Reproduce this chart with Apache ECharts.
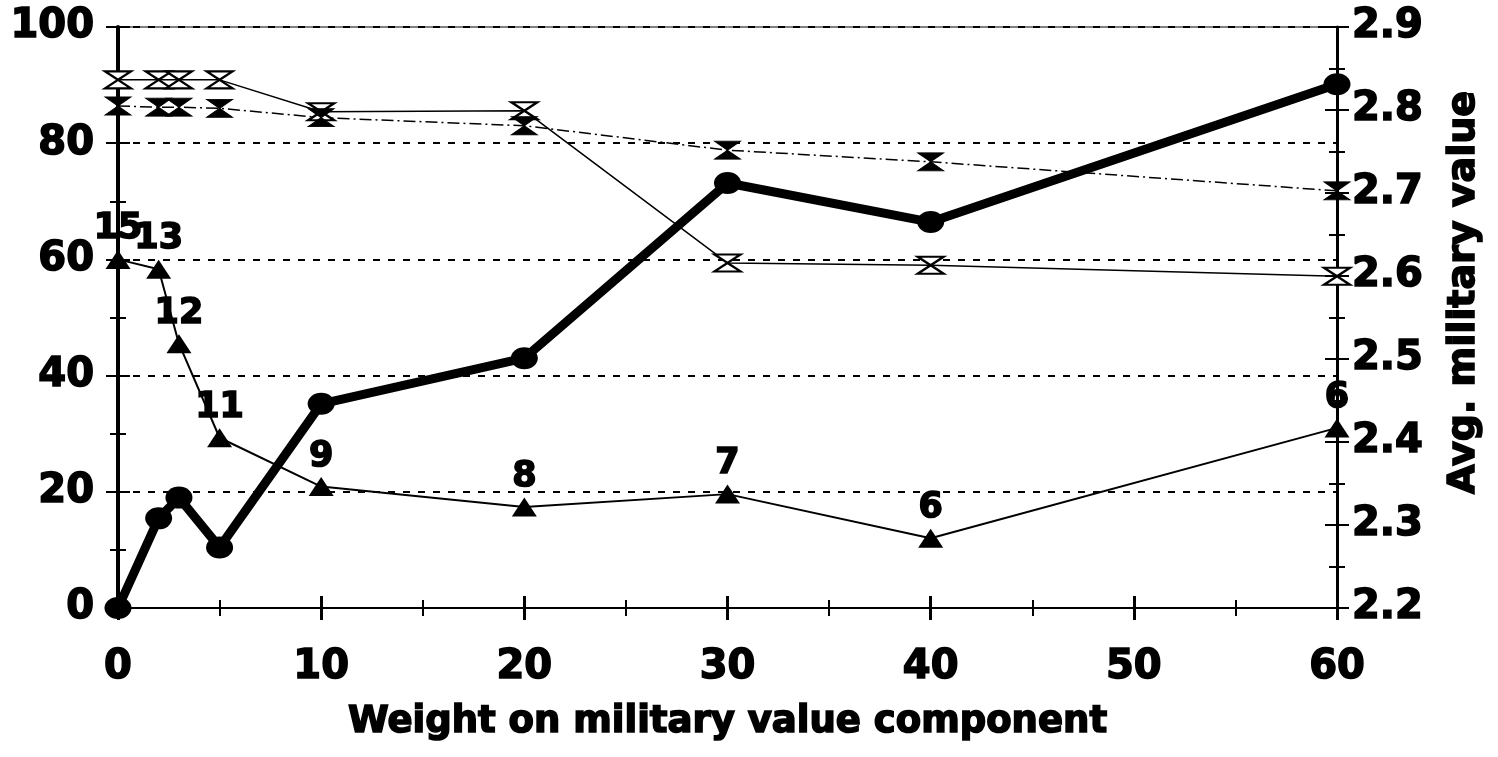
<!DOCTYPE html>
<html>
<head>
<meta charset="utf-8">
<script src="https://cdn.jsdelivr.net/npm/echarts@6/dist/echarts.min.js"></script>
<style>
html, body { margin: 0; padding: 0; background: #fff; }
#chart { width: 1498px; height: 757px; }
</style>
</head>
<body>
<div id="chart"></div>
<script>
// values
const weights = [0, 2, 3, 5, 10, 20, 30, 40, 60];
const avgMilitary = [2.2, 2.308, 2.333, 2.273, 2.446, 2.501, 2.712, 2.665, 2.831];
const triangleVals = [60, 58.3, 45.5, 29.3, 20.9, 17.4, 19.6, 12.0, 31];
const triangleLabels = ['15', '13', '12', '11', '9', '8', '7', '6', '6'];
const crossVals = [90.9, 90.9, 90.9, 90.9, 85.4, 85.6, 59.4, 59.0, 57.1];
const hourglassVals = [86.4, 86.2, 86.2, 86.0, 84.4, 83.0, 78.8, 76.8, 71.8];

const font = 'DejaVu Sans';
const hourglassPath = 'path://M0,0 L10,0 L5,5 L10,10 L0,10 L5,5 Z';

function pairs(ys) {
  return weights.map((w, i) => [w, ys[i]]);
}

// heavy black text, a little stroke to thicken the glyphs
function heavy(size, extra) {
  return Object.assign({
    fontFamily: font, fontWeight: 'bold', fontSize: size, color: '#000',
    textBorderColor: '#000', textBorderWidth: 1.6
  }, extra || {});
}

let chart = echarts.init(document.getElementById('chart'));

let option = {
  animation: false,
  backgroundColor: '#fff',
  grid: {
    left: 118, right: 161, top: 27, bottom: 149,
    show: true, borderColor: '#000', borderWidth: 1
  },
  xAxis: [
    {
      type: 'value', min: 0, max: 60, interval: 10,
      name: 'Weight on military value component',
      nameLocation: 'middle', nameGap: 96,
      nameTextStyle: heavy(37),
      axisLine: { show: true, onZero: false, lineStyle: { color: '#000', width: 2 } },
      axisTick: { show: true, length: 12, lineStyle: { color: '#000', width: 3 } },
      minorTick: { show: true, splitNumber: 2, length: 8, lineStyle: { color: '#000', width: 2 } },
      axisLabel: heavy(40, { margin: 40 }),
      splitLine: { show: false }
    },
    {
      type: 'value', min: 0, max: 60, interval: 10, position: 'bottom',
      axisLine: { show: false, onZero: false },
      axisTick: { show: true, inside: true, length: 12, lineStyle: { color: '#000', width: 3 } },
      minorTick: { show: true, splitNumber: 2, length: 8, lineStyle: { color: '#000', width: 2 } },
      axisLabel: { show: false },
      splitLine: { show: false }
    }
  ],
  yAxis: [
    {
      type: 'value', min: 0, max: 100, interval: 20, position: 'left',
      axisLine: { show: true, onZero: false, lineStyle: { color: '#000', width: 4 } },
      axisTick: { show: true, length: 12, lineStyle: { color: '#000', width: 2 } },
      minorTick: { show: true, splitNumber: 2, length: 8, lineStyle: { color: '#000', width: 2 } },
      axisLabel: heavy(40, { margin: 24 }),
      splitLine: { show: true, lineStyle: { color: '#000', width: 2, type: [7, 8] } }
    },
    {
      type: 'value', min: 2.2, max: 2.9, interval: 0.1, position: 'right',
      name: 'Avg. military value',
      nameLocation: 'middle', nameGap: 108, nameRotate: 90,
      nameTextStyle: heavy(38, { padding: [0, 0, 0, 50] }),
      axisLine: { show: true, onZero: false, lineStyle: { color: '#000', width: 3 } },
      axisTick: { show: true, length: 12, lineStyle: { color: '#000', width: 2 } },
      minorTick: { show: true, splitNumber: 2, length: 8, lineStyle: { color: '#000', width: 2 } },
      axisLabel: heavy(40, { margin: 15, formatter: v => v.toFixed(1) }),
      splitLine: { show: false }
    },
    {
      type: 'value', min: 0, max: 100, interval: 20, position: 'left',
      axisLine: { show: false, onZero: false },
      axisTick: { show: true, inside: true, length: 12, lineStyle: { color: '#000', width: 2 } },
      minorTick: { show: true, splitNumber: 2, length: 8, lineStyle: { color: '#000', width: 2 } },
      axisLabel: { show: false },
      splitLine: { show: false }
    },
    {
      type: 'value', min: 2.2, max: 2.9, interval: 0.1, position: 'right',
      axisLine: { show: false, onZero: false },
      axisTick: { show: true, inside: true, length: 12, lineStyle: { color: '#000', width: 2 } },
      minorTick: { show: true, splitNumber: 2, length: 8, lineStyle: { color: '#000', width: 2 } },
      axisLabel: { show: false },
      splitLine: { show: false }
    }
  ],
  series: [
    {
      name: 'cross', type: 'line', yAxisIndex: 0,
      data: pairs(crossVals),
      symbol: hourglassPath, symbolSize: [26, 17],
      itemStyle: { color: '#fff', borderColor: '#000', borderWidth: 2.5 },
      lineStyle: { color: '#000', width: 1.5 },
      z: 3
    },
    {
      name: 'hourglass', type: 'line', yAxisIndex: 0,
      data: pairs(hourglassVals),
      symbol: hourglassPath, symbolSize: [26, 18],
      itemStyle: { color: '#000', borderColor: '#000', borderWidth: 1 },
      lineStyle: { color: '#000', width: 1.5, type: [12, 4, 2, 4] },
      z: 3
    },
    {
      name: 'triangles', type: 'line', yAxisIndex: 0,
      data: pairs(triangleVals),
      symbol: 'triangle', symbolSize: [25, 19],
      itemStyle: { color: '#000' },
      lineStyle: { color: '#000', width: 2 },
      label: heavy(35, {
        show: true, position: 'top', distance: 3,
        formatter: p => triangleLabels[p.dataIndex]
      }),
      z: 4
    },
    {
      name: 'avg', type: 'line', yAxisIndex: 1,
      data: pairs(avgMilitary),
      symbol: 'circle', symbolSize: [27, 22],
      itemStyle: { color: '#000' },
      lineStyle: { color: '#000', width: 9 },
      z: 5
    }
  ]
};

chart.setOption(option);
</script>
</body>
</html>
